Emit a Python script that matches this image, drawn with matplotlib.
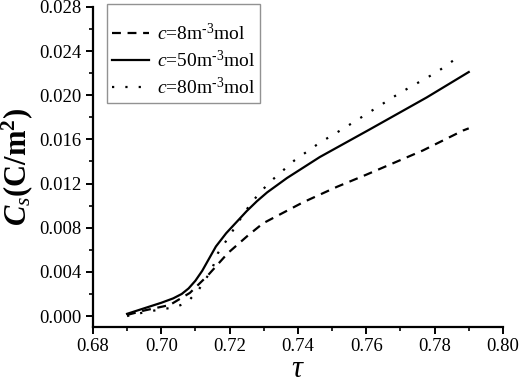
import matplotlib
matplotlib.use("Agg")
import matplotlib.pyplot as plt
from matplotlib.ticker import MultipleLocator, FormatStrFormatter

plt.rcParams['font.family'] = ['Liberation Serif', 'DejaVu Serif']
plt.rcParams['mathtext.fontset'] = 'custom'
plt.rcParams['mathtext.rm'] = 'Liberation Serif'
plt.rcParams['mathtext.it'] = 'Liberation Serif:italic'
plt.rcParams['mathtext.bf'] = 'Liberation Serif:bold'
plt.rcParams['mathtext.bfit'] = 'Liberation Serif:bold:italic'

# c = 8 m^-3 mol (dashed)
tau_8 = [0.690, 0.695, 0.7025, 0.7084, 0.7137, 0.7195, 0.7254, 0.7298, 0.7415,
         0.7514, 0.760, 0.7766, 0.7883, 0.790]
cs_8 = [0.0001, 0.0005, 0.0010, 0.0021, 0.0037, 0.0057, 0.0073, 0.0084, 0.0103,
        0.0117, 0.0128, 0.0150, 0.0168, 0.0170]

# c = 50 m^-3 mol (solid)
tau_50 = [0.690, 0.695, 0.700, 0.7035, 0.706, 0.708, 0.710, 0.712, 0.714, 0.716,
          0.719, 0.722, 0.725, 0.728, 0.731, 0.7368, 0.7464, 0.761, 0.7777, 0.790]
cs_50 = [0.0002, 0.0007, 0.0012, 0.0016, 0.0020, 0.0025, 0.0032, 0.0041, 0.0052, 0.0063,
         0.0075, 0.0085, 0.0095, 0.0104, 0.0112, 0.0125, 0.0144, 0.0169, 0.0198, 0.0221]

# c = 80 m^-3 mol (dotted)
tau_80 = [0.690, 0.696, 0.704, 0.7075, 0.711, 0.7148, 0.7166, 0.7192, 0.7236,
          0.726, 0.7289, 0.7324, 0.739, 0.7464, 0.7529, 0.7596, 0.7698, 0.7807, 0.788]
cs_80 = [0.0000, 0.0004, 0.0008, 0.0012, 0.0024, 0.0042, 0.0057, 0.0069, 0.0090,
         0.0101, 0.0112, 0.0123, 0.0141, 0.0157, 0.0169, 0.0182, 0.0202, 0.0221, 0.0237]

labels = [r'$c$=8m$^{\text{-3}}$mol',
          r'$c$=50m$^{\text{-3}}$mol',
          r'$c$=80m$^{\text{-3}}$mol']

fig = plt.figure(figsize=(5.19, 3.83), dpi=100)
ax = fig.add_axes([0.179, 0.146, 0.790, 0.836])

ax.plot(tau_8, cs_8, color='black', lw=1.6, linestyle=(0, (4, 3)), label=labels[0])
ax.plot(tau_50, cs_50, color='black', lw=1.6, linestyle='-', label=labels[1])
ax.plot(tau_80, cs_80, color='black', lw=1.6, linestyle=(0, (1, 5)), label=labels[2])

ax.set_xlim(0.68, 0.80)
ax.set_ylim(-0.001, 0.028)
ax.xaxis.set_major_locator(MultipleLocator(0.02))
ax.xaxis.set_minor_locator(MultipleLocator(0.01))
ax.yaxis.set_major_locator(MultipleLocator(0.004))
ax.yaxis.set_minor_locator(MultipleLocator(0.002))
ax.xaxis.set_major_formatter(FormatStrFormatter('%.2f'))
ax.yaxis.set_major_formatter(FormatStrFormatter('%.3f'))

for s in ['top', 'right']:
    ax.spines[s].set_visible(False)
for s in ['left', 'bottom']:
    ax.spines[s].set_linewidth(1.6)

ax.tick_params(which='major', direction='out', length=5, width=1.4, labelsize=13.5, pad=3)
ax.tick_params(which='minor', direction='out', length=3, width=1.2)

ax.set_xlabel(r'$\tau$', fontsize=22, labelpad=0)
ax.set_ylabel(r'$\mathbfit{C}_{s}$(C/m$^{\mathbf{2}}$)', fontsize=22, fontweight='bold', labelpad=3)

leg = ax.legend(loc='upper left', bbox_to_anchor=(0.035, 1.008), fontsize=14,
                frameon=True, fancybox=False, edgecolor='#777777', handlelength=1.9,
                handletextpad=0.4, borderpad=0.25, labelspacing=0.3,
                title=' ', title_fontsize=6, borderaxespad=0)
leg.get_frame().set_linewidth(1.0)

fig.savefig('out.png', dpi=100)
